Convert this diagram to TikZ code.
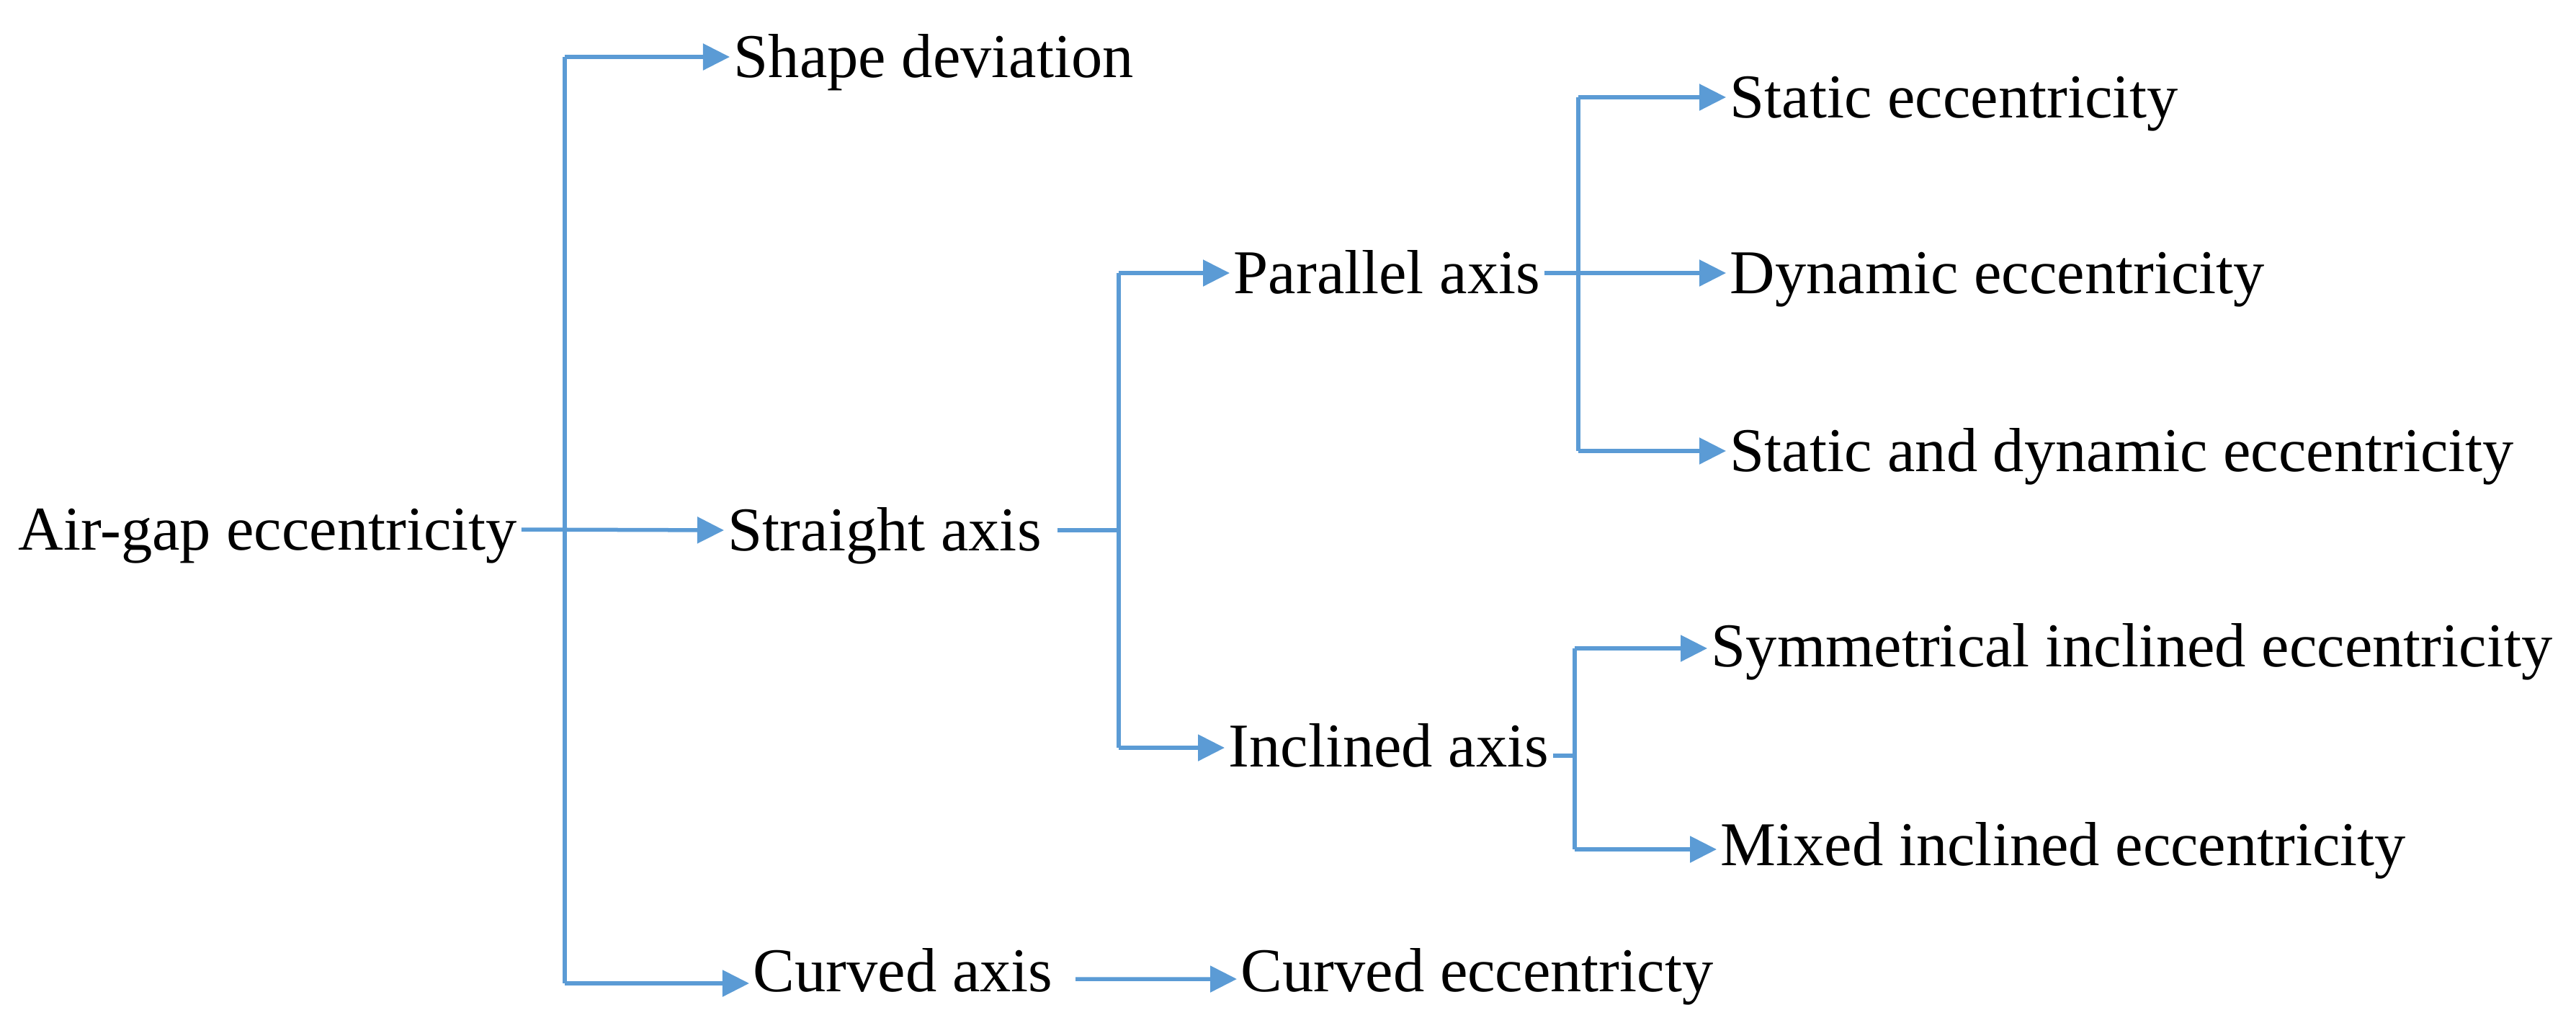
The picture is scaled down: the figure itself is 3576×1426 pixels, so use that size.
\documentclass[tikz,border=0pt]{standalone}
\usepackage{fontspec}
\setmainfont{Liberation Serif}
\usetikzlibrary{arrows.meta}
\definecolor{lineblue}{HTML}{5B9BD5}
\begin{document}
\begin{tikzpicture}[x=0.01cm,y=-0.01cm,
  lbl/.style={anchor=west, inner xsep=0.05cm, inner ysep=0pt, text height=0.571cm, text depth=0pt, font=\fontsize{24.6}{30}\selectfont},
  conn/.style={draw=lineblue, line width=0.055cm},
  arr/.style={conn, -{Triangle[length=0.37cm,width=0.36cm]}}]
\useasboundingbox (0,0) rectangle (3576,1426);

% nodes
\node[lbl] (air) at (20,735) {Air-gap eccentricity};
\node[lbl] (shape) at (1013,79) {Shape deviation};
\node[lbl] (straight) at (1005,736) {Straight axis};
\node[lbl] (curved) at (1040,1348) {Curved axis};
\node[lbl] (parallel) at (1707,379) {Parallel axis};
\node[lbl] (inclined) at (1700,1036) {Inclined axis};
\node[lbl] (static) at (2396,135) {Static eccentricity};
\node[lbl] (dynamic) at (2396,379) {Dynamic eccentricity};
\node[lbl] (both) at (2396,626) {Static and dynamic eccentricity};
\node[lbl] (sym) at (2370,897) {Symmetrical inclined eccentricity};
\node[lbl] (mixed) at (2383,1173) {Mixed inclined eccentricity};
\node[lbl] (curvedecc) at (1717,1348) {Curved eccentricty};

% junction coordinates
\coordinate (t1) at (784,79);
\coordinate (t2) at (784,1365);
\coordinate (sm) at (1553,736);
\coordinate (s1) at (1553,379);
\coordinate (s2) at (1553,1038);
\coordinate (p1) at (2191,135);
\coordinate (p2) at (2191,626);
\coordinate (im) at (2186,1049);
\coordinate (i1) at (2186,900);
\coordinate (i2) at (2186,1179);

% level 1
\draw[arr] (air.east) -- (straight.west);
\draw[conn] (t1) -- (t2);
\draw[arr] (t1) -- (shape.west);
\draw[arr] (t2) -- (t2 -| curved.west);

% straight axis
\draw[conn] ([xshift=0.17cm]straight.east) -- (sm);
\draw[conn] (s1) -- (s2);
\draw[arr] (s1) -- (parallel.west);
\draw[arr] (s2) -- (s2 -| inclined.west);

% parallel axis
\draw[arr] (parallel.east) -- (dynamic.west);
\draw[conn] (p1) -- (p2);
\draw[arr] (p1) -- (static.west);
\draw[arr] (p2) -- (both.west);

% inclined axis
\draw[conn] (im -| inclined.east) -- (im);
\draw[conn] (i1) -- (i2);
\draw[arr] (i1) -- (i1 -| sym.west);
\draw[arr] (i2) -- (i2 -| mixed.west);

% curved axis
\draw[arr] ([shift={(26,11)}]curved.east) -- ([yshift=-0.11cm]curvedecc.west);
\end{tikzpicture}
\end{document}
